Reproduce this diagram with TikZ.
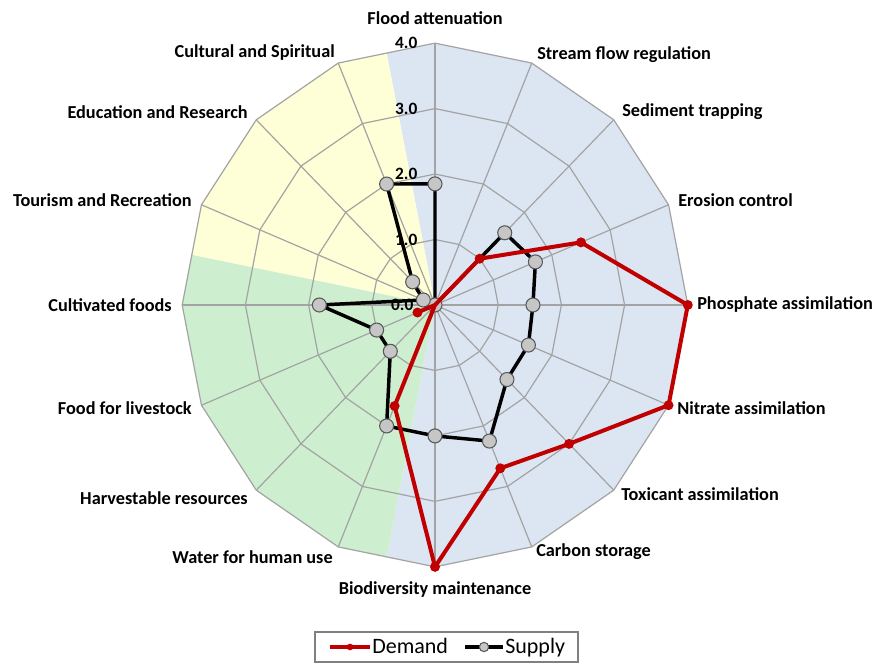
\documentclass[tikz,border=0pt]{standalone}
\usepackage{fontspec}
\setmainfont{Carlito}
\definecolor{demandred}{HTML}{C00000}
\definecolor{skyfill}{HTML}{DCE6F2}
\definecolor{creamfill}{HTML}{FFFFD7}
\definecolor{leaffill}{HTML}{CDEFCF}
\definecolor{gridgray}{HTML}{A3A3A3}
\definecolor{dotgray}{HTML}{C6C6C6}

\begin{document}
\begin{tikzpicture}[x=0.75pt,y=0.75pt,
  axislabel/.style={font=\fontsize{13.7}{15}\selectfont\bfseries,inner sep=0pt},
  ticklabel/.style={font=\fontsize{13}{15}\selectfont\bfseries,inner sep=0pt,anchor=east},
  legendtext/.style={font=\fontsize{16.5}{18}\selectfont,inner sep=0pt,anchor=base west},
  gridline/.style={gridgray,line width=0.9pt},
  demandline/.style={demandred,line width=3pt,line join=round},
  supplyline/.style={black,line width=2.6pt,line join=round},
  supplydot/.style={circle,draw=gray!70!black,fill=dotgray,line width=0.8pt,minimum size=10.5pt,inner sep=0pt},
  demanddot/.style={circle,fill=demandred,minimum size=7.5pt,inner sep=0pt}]
\useasboundingbox (0,0) rectangle (876,666);

\begin{scope}[shift={(435,361)},x=47.4pt,y=49.1pt]
% coloured sectors
\fill[skyfill] (0,0) -- (101.25:3.923) \foreach \a in {90,67.5,...,-90} { -- (\a:4) } -- (-101.25:3.923) -- cycle;
\fill[creamfill] (0,0) -- (101.25:3.923) -- (112.5:4) -- (135:4) -- (157.5:4) -- (168.75:3.923) -- cycle;
\fill[leaffill] (0,0) -- (168.75:3.923) -- (180:4) -- (202.5:4) -- (225:4) -- (247.5:4) -- (258.75:3.923) -- cycle;
% web
\foreach \a in {0,22.5,...,337.5} \draw[gridline] (0,0) -- (\a:4);
\foreach \r in {1,2,3,4} \draw[gridline] (0:\r) \foreach \a in {22.5,45,...,337.5} { -- (\a:\r) } -- cycle;
% scale
\node[ticklabel] (t0) at ([xshift=-16pt]90:0) {0.0};
\foreach \r in {1,2,3,4} \node[ticklabel] (t\r) at ([xshift=-13pt]90:\r) {\r.0};
% series
\foreach \v [count=\i from 0] in {1.85,0,1.56,1.72,1.55,1.6,1.61,2.25,2.0,2.0,1.0,1.0,1.83,0.2,0.5,2.0}
  \coordinate (s\i) at ({90-22.5*\i}:\v);
\foreach \v [count=\i from 0] in {0,0,1.0,2.5,4,4,3.0,2.7,4,1.67,0,0.3,0,0,0,0}
  \coordinate (d\i) at ({90-22.5*\i}:\v);
\draw[supplyline] (s0) \foreach \i in {1,...,15} { -- (s\i) } -- cycle;
\foreach \i in {0,...,15} \node[supplydot] (sd\i) at (s\i) {};
\draw[demandline] (d0) \foreach \i in {1,...,15} { -- (d\i) } -- cycle;
\foreach \i in {2,...,9,11} \node[demanddot] (dd\i) at (d\i) {};
\end{scope}

% axis names
\node[axislabel] (flood) at (435,648) {Flood attenuation};
\node[axislabel,anchor=west] (stream) at (537,611) {Stream flow regulation};
\node[axislabel,anchor=west] (sediment) at (622,554) {Sediment trapping};
\node[axislabel,anchor=west] (erosion) at (678,466) {Erosion control};
\node[axislabel,anchor=west] (phosphate) at (697,361) {Phosphate assimilation};
\node[axislabel,anchor=west] (nitrate) at (677,258) {Nitrate assimilation};
\node[axislabel,anchor=west] (toxicant) at (621,172) {Toxicant assimilation};
\node[axislabel,anchor=west] (carbon) at (536,114) {Carbon storage};
\node[axislabel] (biodiv) at (435,76) {Biodiversity maintenance};
\node[axislabel,anchor=east] (water) at (333,109) {Water for human use};
\node[axislabel,anchor=east] (harvest) at (248,168) {Harvestable resources};
\node[axislabel,anchor=east] (livestock) at (192,258) {Food for livestock};
\node[axislabel,anchor=east] (cultivated) at (172,361) {Cultivated foods};
\node[axislabel,anchor=east] (tourism) at (192,466) {Tourism and Recreation};
\node[axislabel,anchor=east] (education) at (248,554) {Education and Research};
\node[axislabel,anchor=east] (cultural) at (335,613) {Cultural and Spiritual};

% legend
\draw[gray,line width=1.3pt] (315,4) rectangle (578,34);
\coordinate (da) at (330,19);
\coordinate (db) at (370,19);
\draw[demandred,line width=3pt] (da) -- (db);
\node[demanddot,minimum size=5pt] (dkey) at (350,19) {};
\node[legendtext] (dtext) at (372,12) {Demand};
\coordinate (sa) at (465,19);
\coordinate (sb) at (503,19);
\draw[black,line width=2.6pt] (sa) -- (sb);
\node[supplydot,minimum size=7pt] (skey) at (484,19) {};
\node[legendtext] (stext) at (505,12) {Supply};
\end{tikzpicture}
\end{document}
